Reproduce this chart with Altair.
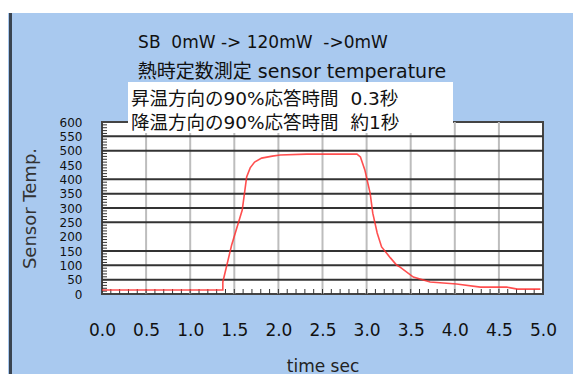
import altair as alt
import pandas as pd

# ---- data ----
time_s = [0.0, 0.5, 0.96, 1.37, 1.37, 1.47, 1.59, 1.64, 1.68, 1.73, 1.81, 1.93, 2.02, 2.32, 2.89,
          2.93, 2.98, 3.04, 3.07, 3.12, 3.17, 3.27, 3.34, 3.38, 3.53, 3.72, 4.02, 4.29, 4.59, 4.71, 4.97]
temp = [14, 14, 14, 14, 42, 171, 293, 408, 440, 460, 474, 481, 485, 488, 488,
        478, 433, 352, 282, 213, 164, 126, 101, 94, 59, 42, 35, 24, 24, 17, 17]

y_labels = [0, 50, 100, 150, 200, 250, 300, 350, 400, 450, 500, 550, 600]
x_labels = [0.0, 0.5, 1.0, 1.5, 2.0, 2.5, 3.0, 3.5, 4.0, 4.5, 5.0]
h_grid = [50, 100, 150, 250, 300, 350, 400, 500, 550]
v_grid = [0.5, 1.0, 1.5, 2.0, 2.5, 3.0, 3.5, 4.0, 4.5]
x_minor = [round(i * 0.1, 1) for i in range(1, 50)]
y_minor = list(range(10, 600, 10))

title_lines = ["SB\u00a0\u00a00mW -> 120mW\u00a0\u00a0->0mW", "熱時定数測定 sensor temperature"]
box_lines = ["昇温方向の90%応答時間\u00a0\u00a00.3秒", "降温方向の90%応答時間\u00a0\u00a0約1秒"]
x_title = "time sec"
y_title = "Sensor Temp."

W, H = 441, 172
BG = "#a9c9ef"
FONT = "DejaVu Sans, Noto Sans CJK JP"

xs = alt.Scale(domain=[0, 5], nice=False, zero=False)
ys = alt.Scale(domain=[0, 600], nice=False)

ax_x = alt.Axis(
    values=x_labels, format=".1f", grid=False, ticks=False, domain=False, labelFlush=False,
    labelPadding=28, labelFontSize=17, labelFont=FONT, labelColor="#111",
    title=x_title, titleFontSize=17, titleFont=FONT, titleFontWeight="normal",
    titleColor="#222", titlePadding=20)
ax_y = alt.Axis(
    values=y_labels, grid=False, ticks=False, domain=False, labelOverlap=False, labelFlush=False,
    labelPadding=20, labelFontSize=12, labelFont=FONT, labelColor="#111",
    title=y_title, titleFontSize=18, titleFont=FONT, titleFontWeight="normal",
    titleColor="#333", titlePadding=20)

curve = pd.DataFrame({"t": time_s, "v": temp})

line = alt.Chart(curve).mark_line(color="#ff3030", strokeWidth=1.6, opacity=0.85).encode(
    x=alt.X("t:Q", scale=xs, axis=ax_x),
    y=alt.Y("v:Q", scale=ys, axis=ax_y),
)

hg = alt.Chart(pd.DataFrame({"v": h_grid})).mark_rule(color="#333333", strokeWidth=2).encode(
    y=alt.Y("v:Q", scale=ys, axis=ax_y), x=alt.value(0), x2=alt.value(W))
vg = alt.Chart(pd.DataFrame({"t": v_grid})).mark_rule(color="#bdbdbd", strokeWidth=2).encode(
    x=alt.X("t:Q", scale=xs, axis=ax_x), y=alt.value(0), y2=alt.value(H))
xm = alt.Chart(pd.DataFrame({"t": x_minor})).mark_rule(color="#333333", strokeWidth=1).encode(
    x=alt.X("t:Q", scale=xs, axis=ax_x), y=alt.value(H - 5), y2=alt.value(H))
ym = alt.Chart(pd.DataFrame({"v": y_minor})).mark_rule(color="#333333", strokeWidth=1).encode(
    y=alt.Y("v:Q", scale=ys, axis=ax_y), x=alt.value(0), x2=alt.value(5))

# decorations: white strip at top, dark left border
strip = alt.Chart(pd.DataFrame({"a": [0]})).mark_rect(color="white").encode(
    x=alt.value(-102), x2=alt.value(480), y=alt.value(-122), y2=alt.value(-109))
border = alt.Chart(pd.DataFrame({"a": [0]})).mark_rect(color="#3a4450").encode(
    x=alt.value(-93), x2=alt.value(-90), y=alt.value(-109), y2=alt.value(270))

box = alt.Chart(pd.DataFrame({"a": [0]})).mark_rect(color="white").encode(
    x=alt.value(26), x2=alt.value(351), y=alt.value(-40), y2=alt.value(11))

def txt(s, x, y, size, align):
    return alt.Chart(pd.DataFrame({"s": [s]})).mark_text(
        font=FONT, fontSize=size, color="#111", align=align, baseline="middle").encode(
        text="s:N", x=alt.value(x - 102), y=alt.value(y - 122))

t1 = txt(title_lines[0], 263, 43, 17, "center")
t2 = txt(title_lines[1], 292, 72, 19, "center")
b1 = txt(box_lines[0], 131, 99, 18.5, "left")
b2 = txt(box_lines[1], 131, 123, 18.5, "left")

chart = alt.layer(strip, border, vg, hg, xm, ym, line, box, t1, t2, b1, b2).properties(
    width=W, height=H,
    autosize=alt.AutoSizeParams(type="none"),
    padding={"left": 94, "top": 114, "right": 30, "bottom": 90},
    background=BG,
).configure_view(stroke="#444444", strokeWidth=2, fill="white")

chart.save("out.html", embed_options={"renderer": "svg", "actions": False})
